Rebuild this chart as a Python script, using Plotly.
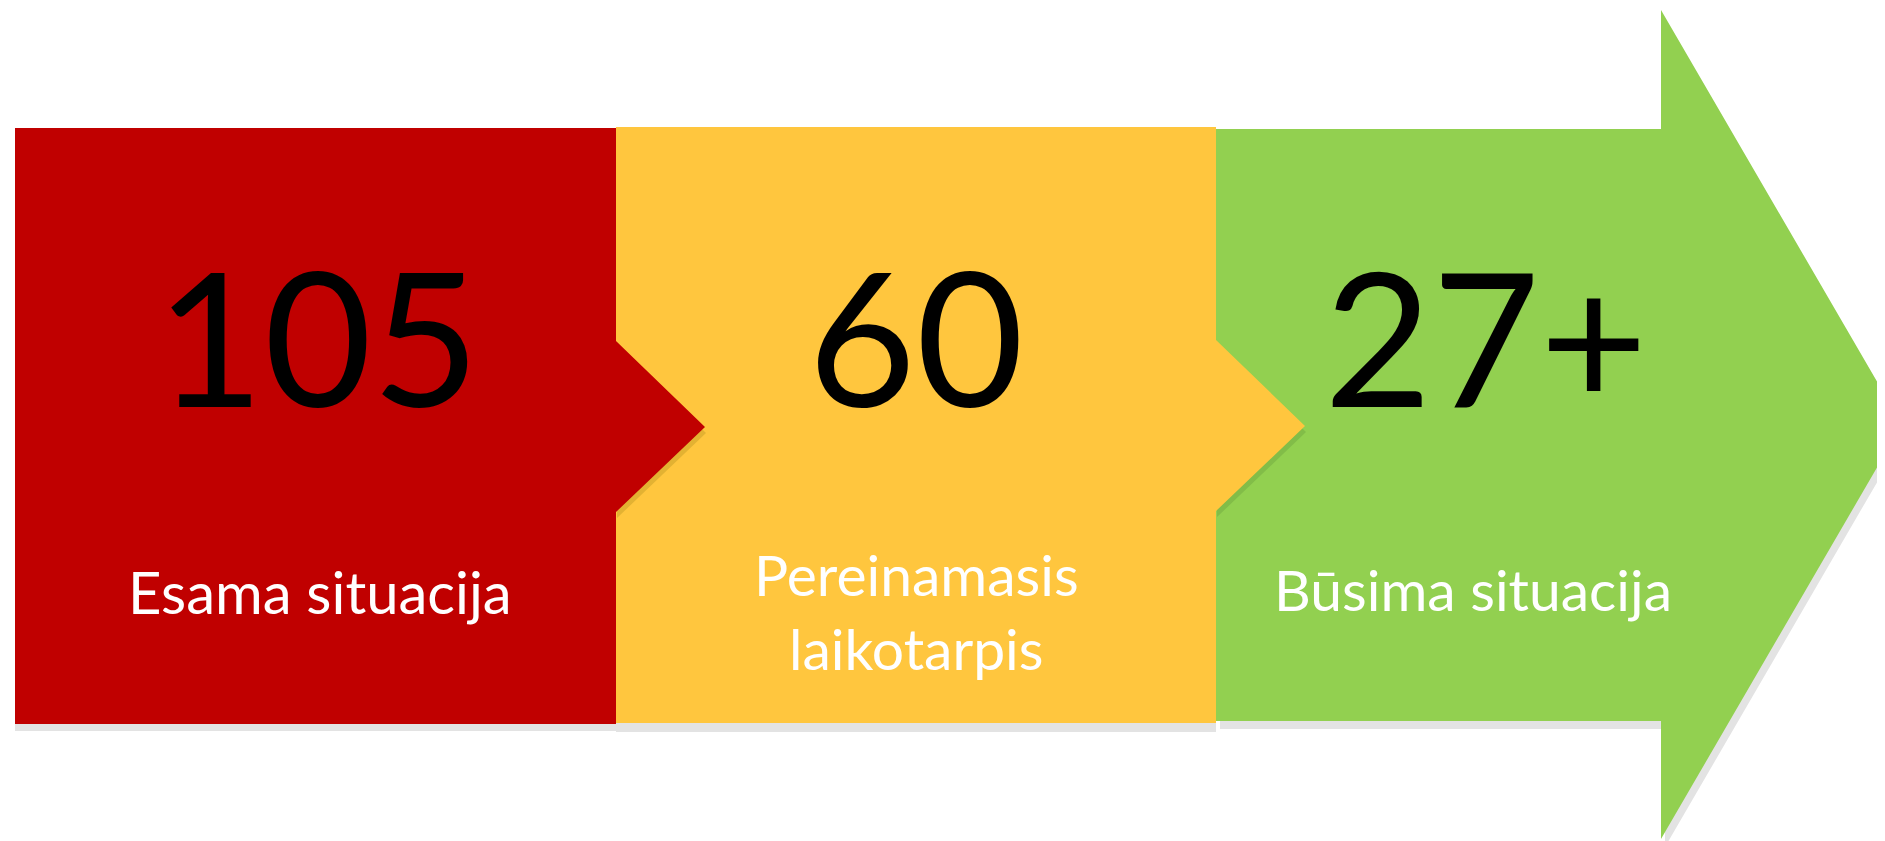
import plotly.graph_objects as go

# ---- content ----
numbers = ["105", "60", "27+"]
labels = ["Esama situacija", "Pereinamasis<br>laikotarpis", "Būsima situacija"]
colors = ["#C00000", "#FFC63E", "#92D050"]
notch_shadow = ["#E3B232", "#82BD48"]
shadow_gray = "#E3E3E3"

W, H = 1885, 841
PAGE_OFFSET = 8  # default body margin of the page

# ---- geometry (pixel space of the page) ----
red = [(15, 128), (616, 128), (616, 341), (705, 427), (616, 512), (616, 724), (15, 724)]
yellow = [(616, 127), (1216, 127), (1216, 340), (1305, 426), (1216, 511), (1216, 723), (616, 723)]
green = [(1216, 129), (1661, 129), (1661, 10), (1902, 424.5), (1661, 839), (1661, 721), (1216, 721)]
red_notch = [(616, 341), (705, 427), (616, 512)]
yellow_notch = [(1216, 340), (1305, 426), (1216, 511)]


def shift(poly, dx, dy):
    return [(x + dx, y + dy) for x, y in poly]


def poly_trace(poly, color):
    xs = [p[0] for p in poly] + [poly[0][0]]
    ys = [p[1] for p in poly] + [poly[0][1]]
    return go.Scatter(x=xs, y=ys, fill="toself", fillcolor=color, mode="lines",
                      line=dict(width=0, color=color), hoverinfo="skip", showlegend=False)


fig = go.Figure()
# shadows
fig.add_trace(poly_trace(shift(green, 4, 8), shadow_gray))
fig.add_trace(poly_trace(shift(yellow, 0, 9), shadow_gray))
fig.add_trace(poly_trace(shift(red, 0, 7), shadow_gray))
fig.add_trace(poly_trace(green, colors[2]))
fig.add_trace(poly_trace(shift(yellow_notch, 1, 6), notch_shadow[1]))
fig.add_trace(poly_trace(yellow, colors[1]))
fig.add_trace(poly_trace(shift(red_notch, 1, 6), notch_shadow[0]))
fig.add_trace(poly_trace(red, colors[0]))

num_x = [318, 916, 1486]
lab_x = [320, 916, 1473]
num_font = "Lato, Carlito, Calibri, sans-serif"

for i in range(3):
    fig.add_annotation(x=num_x[i], y=335, xref="x", yref="y", text=numbers[i],
                       showarrow=False, xanchor="center", yanchor="middle",
                       font=dict(family=num_font, size=186, color="black"))

fig.add_annotation(x=lab_x[0], y=591, xref="x", yref="y", text=labels[0], showarrow=False,
                   xanchor="center", yanchor="middle",
                   font=dict(family=num_font, size=58, color="white"))
fig.add_annotation(x=lab_x[1], y=611, xref="x", yref="y", text=labels[1], showarrow=False,
                   xanchor="center", yanchor="middle",
                   font=dict(family=num_font, size=57, color="white"))
fig.add_annotation(x=lab_x[2], y=589, xref="x", yref="y", text=labels[2], showarrow=False,
                   xanchor="center", yanchor="middle",
                   font=dict(family=num_font, size=57, color="white"))

fig.update_xaxes(range=[PAGE_OFFSET, W], visible=False, fixedrange=True)
fig.update_yaxes(range=[H, PAGE_OFFSET], visible=False, fixedrange=True)
fig.update_layout(width=W - PAGE_OFFSET, height=H - PAGE_OFFSET,
                  margin=dict(l=0, r=0, t=0, b=0),
                  paper_bgcolor="white", plot_bgcolor="white")

fig.write_html("out.html", config={"displayModeBar": False})
